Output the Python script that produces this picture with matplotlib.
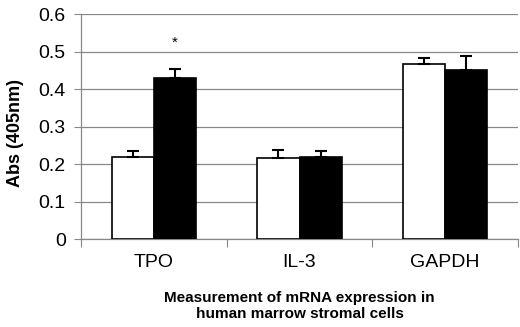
import numpy as np
import matplotlib
matplotlib.use('Agg')
import matplotlib.pyplot as plt

plt.rcParams['font.family'] = ['Liberation Sans', 'DejaVu Sans']

categories = ['TPO', 'IL-3', 'GAPDH']
white_vals = [0.219, 0.217, 0.467]
white_err = [0.016, 0.020, 0.016]
black_vals = [0.429, 0.219, 0.451]
black_err = [0.025, 0.016, 0.037]

fig = plt.figure(figsize=(5.2, 3.27), dpi=100)
ax = fig.add_axes([0.156, 0.269, 0.84, 0.688])

x = np.arange(len(categories))
w = 0.29
ax.bar(x - w / 2, white_vals, w, color='white', edgecolor='black', linewidth=1.2, zorder=3)
ax.bar(x + w / 2, black_vals, w, color='black', edgecolor='black', linewidth=1.2, zorder=3)
ax.errorbar(x - w / 2, white_vals, yerr=[np.zeros(3), white_err], fmt='none',
            ecolor='black', elinewidth=1.5, capsize=4.5, capthick=1.5, zorder=4)
ax.errorbar(x + w / 2, black_vals, yerr=[np.zeros(3), black_err], fmt='none',
            ecolor='black', elinewidth=1.5, capsize=4.5, capthick=1.5, zorder=4)

# significance mark
ax.text(x[0] + w / 2, 0.523, '*', ha='center', va='center', fontsize=11)

ax.set_xlim(-0.5, 2.5)
ax.set_ylim(0, 0.6)
ax.set_yticks(np.arange(0, 0.61, 0.1))
ax.set_yticklabels(['0', '0.1', '0.2', '0.3', '0.4', '0.5', '0.6'], fontsize=14)
ax.set_xticks(x)
ax.set_xticklabels(categories, fontsize=14)
ax.set_xticks([-0.5, 0.5, 1.5, 2.5], minor=True)
ax.tick_params(axis='x', which='major', length=0, pad=11)
ax.tick_params(axis='x', which='minor', length=6, width=0.8, color='#888888')
ax.tick_params(axis='y', length=5, width=0.8, color='#888888', pad=6)

ax.yaxis.grid(True, color='#888888', linewidth=0.9)
ax.set_axisbelow(True)
for s in ['top', 'right']:
    ax.spines[s].set_visible(False)
for s in ['left', 'bottom']:
    ax.spines[s].set_color('#888888')
    ax.spines[s].set_linewidth(0.9)

ax.set_ylabel('Abs (405nm)', fontsize=13, fontweight='bold')
ax.yaxis.set_label_coords(-0.13, 0.47)
ax.set_xlabel('Measurement of mRNA expression in\nhuman marrow stromal cells',
              fontsize=11, fontweight='bold', labelpad=14)

fig.savefig('out.png', dpi=100)
